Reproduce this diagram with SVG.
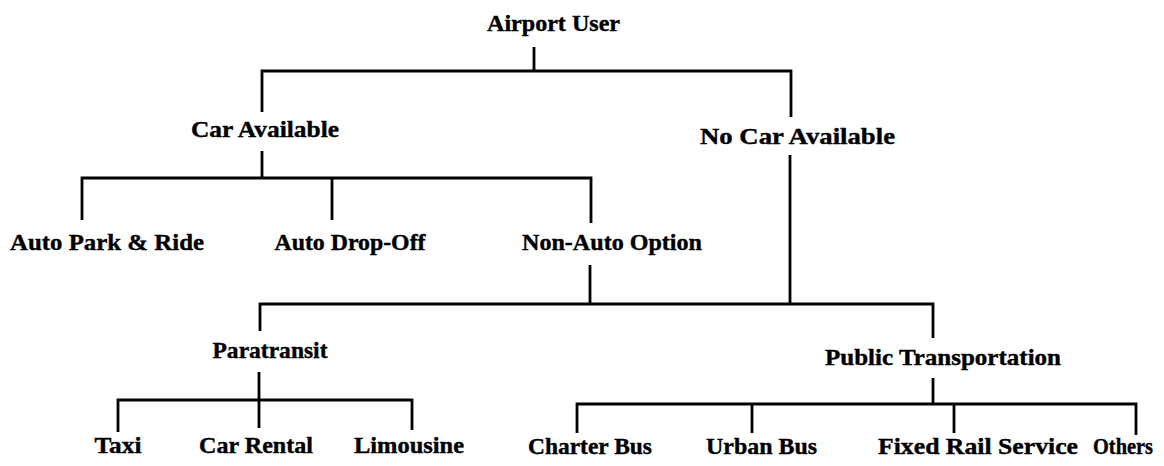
<svg xmlns="http://www.w3.org/2000/svg" width="1164" height="466" viewBox="0 0 1164 466">
<style>
.lbl{font-family:"Liberation Serif","Times New Roman",serif;font-weight:bold;font-size:24px;fill:#000;stroke:#000;stroke-width:0.4;text-anchor:middle}
.ln{fill:none;stroke:#000;stroke-width:2.8;stroke-linejoin:miter;stroke-linecap:butt}
</style>
<rect width="1164" height="466" fill="#fff"/>
<g id="connectors" class="ln">
<path d="M534,47 V71"/>
<path d="M262,112 V71 H791 V117"/>
<path d="M262,151 V178"/>
<path d="M82,220 V178 H591 V223"/>
<path d="M332,178 V220"/>
<path d="M790,155 V305"/>
<path d="M590,265 V305"/>
<path d="M260,331 V304 H933 V338"/>
<path d="M259,372 V428"/>
<path d="M118,432 V400 H412 V430"/>
<path d="M933,378 V404"/>
<path d="M577,433 V404 H1136 V435"/>
<path d="M752,404 V433"/>
<path d="M954,404 V433"/>
</g>
<g id="airport-user"><text class="lbl" x="553.5" y="31" textLength="133" lengthAdjust="spacingAndGlyphs">Airport User</text></g>
<g id="car-available"><text class="lbl" x="265" y="137" textLength="148" lengthAdjust="spacingAndGlyphs">Car Available</text></g>
<g id="no-car-available"><text class="lbl" x="797.5" y="144" textLength="195" lengthAdjust="spacingAndGlyphs">No Car Available</text></g>
<g id="auto-park-ride"><text class="lbl" x="107" y="250" textLength="194" lengthAdjust="spacingAndGlyphs">Auto Park &amp; Ride</text></g>
<g id="auto-drop-off"><text class="lbl" x="350" y="250" textLength="151" lengthAdjust="spacingAndGlyphs">Auto Drop-Off</text></g>
<g id="non-auto-option"><text class="lbl" x="612" y="250" textLength="180" lengthAdjust="spacingAndGlyphs">Non-Auto Option</text></g>
<g id="paratransit"><text class="lbl" x="270" y="358" textLength="115" lengthAdjust="spacingAndGlyphs">Paratransit</text></g>
<g id="public-transportation"><text class="lbl" x="943" y="365" textLength="236" lengthAdjust="spacingAndGlyphs">Public Transportation</text></g>
<g id="taxi"><text class="lbl" x="118" y="453" textLength="47" lengthAdjust="spacingAndGlyphs">Taxi</text></g>
<g id="car-rental"><text class="lbl" x="256" y="453" textLength="114" lengthAdjust="spacingAndGlyphs">Car Rental</text></g>
<g id="limousine"><text class="lbl" x="409" y="453" textLength="110" lengthAdjust="spacingAndGlyphs">Limousine</text></g>
<g id="charter-bus"><text class="lbl" x="590" y="454" textLength="124" lengthAdjust="spacingAndGlyphs">Charter Bus</text></g>
<g id="urban-bus"><text class="lbl" x="761.5" y="454" textLength="111" lengthAdjust="spacingAndGlyphs">Urban Bus</text></g>
<g id="fixed-rail-service"><text class="lbl" x="978" y="454" textLength="200" lengthAdjust="spacingAndGlyphs">Fixed Rail Service</text></g>
<g id="others"><text class="lbl" x="1123" y="454" textLength="60" lengthAdjust="spacingAndGlyphs">Others</text></g>
</svg>
